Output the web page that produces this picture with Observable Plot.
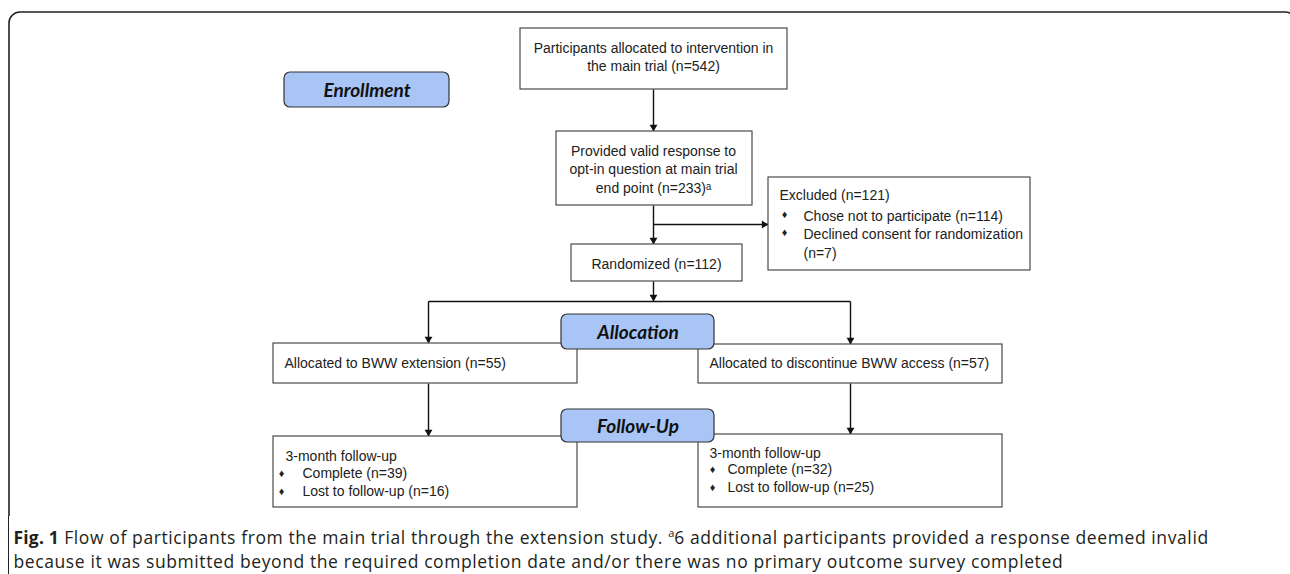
<!DOCTYPE html>
<html>
<head>
<meta charset="utf-8">
<script src="https://cdn.jsdelivr.net/npm/d3@7"></script>
<script src="https://cdn.jsdelivr.net/npm/@observablehq/plot@0.6"></script>
<style>
  html, body { margin: 0; padding: 0; background: white; overflow: hidden; }
  #cap { margin-left: 8px; border-left: 1.6px solid #222; padding-left: 4.5px; padding-top: 10px; font-family: "Open Sans", sans-serif; font-size: 17.5px; letter-spacing: 0.6px; line-height: 23.5px; color: #231f20; height: 48px; white-space: nowrap; }
  #cap b { font-weight: 700; letter-spacing: 0.2px; }
  #cap sup { font-size: 11px; line-height: 0; vertical-align: 7px; letter-spacing: 0; }
</style>
</head>
<body>
<div id="chart"></div>
<div id="cap"></div>
<script>
// ---- content (text of the flow diagram) ----
const stepLabels = [
  "Participants allocated to intervention in\nthe main trial (n=542)",
  "Provided valid response to\nopt-in question at main trial\nend point (n=233)ᵃ",
  "Randomized (n=112)"
];
const armLabels = ["Allocated to BWW extension (n=55)", "Allocated to discontinue BWW access (n=57)"];
const phaseLabels = ["Enrollment", "Allocation", "Follow-Up"];
const excludedTitle = "Excluded (n=121)";
const excludedItems = ["Chose not to participate (n=114)", "Declined consent for randomization\n(n=7)"];
const followTitle = "3-month follow-up";
const followItemsLeft = ["Complete (n=39)", "Lost to follow-up (n=16)"];
const followItemsRight = ["Complete (n=32)", "Lost to follow-up (n=25)"];
const captionLead = "Fig. 1";
const captionLine1 = " Flow of participants from the main trial through the extension study. ";
const captionNote = "6 additional participants provided a response deemed invalid";
const captionLine2 = "because it was submitted beyond the required completion date and/or there was no primary outcome survey completed";

// ---- layout (positions in pixels) ----
const W = 1290, H = 516;
const stepBoxes = [
  {x1: 520, x2: 787, y1: 28, y2: 89, tx: 653, ty: 56},
  {x1: 556, x2: 752, y1: 131, y2: 205, tx: 653, ty: 168},
  {x1: 571, x2: 742, y1: 244, y2: 281, tx: 656, ty: 263}
];
const armBoxes = [
  {x1: 273, x2: 577, y1: 343, y2: 383, tx: 284, ty: 363},
  {x1: 698, x2: 1002, y1: 344, y2: 383, tx: 709, ty: 363}
];
const excludedBox = {x1: 768, x2: 1030, y1: 177, y2: 270, tx: 779, ty: 195, bx: 784, ix: 803, iy: [214, 241.5], biy: [214, 232]};
const followBoxes = [
  {x1: 273, x2: 577, y1: 436, y2: 507, tx: 285, ty: 456, bx: 281, ix: 302, iy: [473, 491]},
  {x1: 698, x2: 1002, y1: 434, y2: 507, tx: 709, ty: 453, bx: 712, ix: 727, iy: [469, 487]}
];
const phaseBoxes = [
  {x1: 284, x2: 449, y1: 72, y2: 107},
  {x1: 561, x2: 714, y1: 314, y2: 349},
  {x1: 561, x2: 714, y1: 409, y2: 442}
];
const connectors = [
  {x1: 653, y1: 89, x2: 653, y2: 131, head: "down"},
  {x1: 653, y1: 205, x2: 653, y2: 244, head: "down"},
  {x1: 653, y1: 224, x2: 768, y2: 224, head: "right"},
  {x1: 653, y1: 281, x2: 653, y2: 301, head: "down"},
  {x1: 428, y1: 301, x2: 850, y2: 301, head: null},
  {x1: 428, y1: 301, x2: 428, y2: 343, head: "down"},
  {x1: 850, y1: 301, x2: 850, y2: 344, head: "down"},
  {x1: 428, y1: 383, x2: 428, y2: 436, head: "down"},
  {x1: 850, y1: 383, x2: 850, y2: 434, head: "down"}
];
const frame = [{x1: 9, x2: 1296, y1: 12, y2: 640}];

// ---- build tables from content + layout ----
const steps = stepBoxes.map((b, i) => ({...b, label: stepLabels[i]}));
const arms = armBoxes.map((b, i) => ({...b, label: armLabels[i]}));
const phases = phaseBoxes.map((b, i) => ({...b, label: phaseLabels[i], tx: (b.x1 + b.x2) / 2, ty: (b.y1 + b.y2) / 2 + 0.5}));
const excludedLines = excludedItems.map((t, i) => ({label: t, x: excludedBox.ix, y: excludedBox.iy[i], bx: excludedBox.bx, by: excludedBox.biy[i]}));
const followItems = [followItemsLeft, followItemsRight];
const followLines = followBoxes.flatMap((b, j) => followItems[j].map((t, i) => ({label: t, x: b.ix, bx: b.bx, y: b.iy[i], by: b.iy[i]})));
const off = 4.4;
const heads = connectors.filter(c => c.head).map(c => c.head === "down"
  ? {x: c.x2, y: c.y2 - off, rot: 180}
  : {x: c.x2 - off, y: c.y2, rot: 90});

const ink = "#222";
const boxStroke = "#3a3a3a";
const blue = "#a8c5f6";

const plot = Plot.plot({
  width: W, height: H, margin: 0,
  x: {type: "linear", domain: [0, W], range: [0, W], axis: null},
  y: {type: "linear", domain: [0, H], range: [0, H], axis: null},
  style: {fontFamily: "'Liberation Sans', Arial, sans-serif", fontSize: "14px", background: "white", overflow: "hidden", color: ink},
  marks: [
    Plot.rect(frame, {x1: "x1", x2: "x2", y1: "y1", y2: "y2", rx: 11, fill: "none", stroke: ink, strokeWidth: 1.6}),
    Plot.link(connectors, {x1: "x1", y1: "y1", x2: "x2", y2: "y2", stroke: "#111", strokeWidth: 1.4}),
    Plot.dot(heads, {x: "x", y: "y", rotate: "rot", symbol: "triangle", r: 2.9, fill: "#111", stroke: "none"}),
    Plot.rect([...steps, ...arms, excludedBox, ...followBoxes], {x1: "x1", x2: "x2", y1: "y1", y2: "y2", fill: "white", stroke: boxStroke, strokeWidth: 1.1}),
    Plot.rect(phases, {x1: "x1", x2: "x2", y1: "y1", y2: "y2", rx: 6, fill: blue, stroke: "#333", strokeWidth: 1.2}),
    Plot.text(steps, {x: "tx", y: "ty", text: "label", textAnchor: "middle", lineAnchor: "middle", lineHeight: 1.3, fill: ink}),
    Plot.text(arms, {x: "tx", y: "ty", text: "label", textAnchor: "start", lineAnchor: "middle", fill: ink}),
    Plot.text([excludedBox], {x: "tx", y: "ty", text: () => excludedTitle, textAnchor: "start", lineAnchor: "middle", fill: ink}),
    Plot.text(excludedLines, {x: "x", y: "y", text: "label", textAnchor: "start", lineAnchor: "middle", lineHeight: 1.36, fill: ink}),
    Plot.text(excludedLines, {x: "bx", y: "by", text: () => "♦", fontSize: 11, textAnchor: "middle", lineAnchor: "middle", fill: ink}),
    Plot.text(followBoxes, {x: "tx", y: "ty", text: () => followTitle, textAnchor: "start", lineAnchor: "middle", fill: ink}),
    Plot.text(followLines, {x: "x", y: "y", text: "label", textAnchor: "start", lineAnchor: "middle", fill: ink}),
    Plot.text(followLines, {x: "bx", y: "by", text: () => "♦", fontSize: 11, textAnchor: "middle", lineAnchor: "middle", fill: ink}),
    Plot.text(phases, {x: "tx", y: "ty", text: "label", textAnchor: "middle", lineAnchor: "middle", fontFamily: "Lato, 'Open Sans', sans-serif", fontWeight: "bold", fontStyle: "italic", fontSize: 19, fill: "#111"})
  ]
});
document.getElementById("chart").appendChild(plot);

const cap = document.getElementById("cap");
const b = document.createElement("b"); b.textContent = captionLead; cap.appendChild(b);
cap.appendChild(document.createTextNode(captionLine1));
const sup = document.createElement("sup"); sup.textContent = "a"; cap.appendChild(sup);
cap.appendChild(document.createTextNode(captionNote));
cap.appendChild(document.createElement("br"));
cap.appendChild(document.createTextNode(captionLine2));
</script>
</body>
</html>
